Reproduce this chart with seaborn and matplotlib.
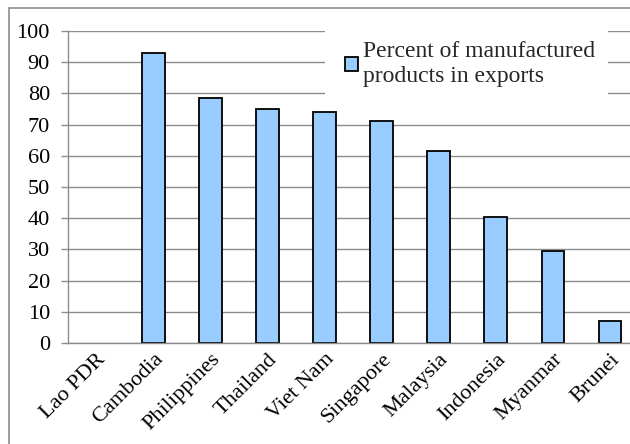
import matplotlib
matplotlib.use("Agg")
import matplotlib.pyplot as plt
import matplotlib.patches as mpatches
import seaborn as sns
import pandas as pd

countries = ["Lao PDR", "Cambodia", "Philippines", "Thailand", "Viet Nam",
             "Singapore", "Malaysia", "Indonesia", "Myanmar", "Brunei"]
manufactured_pct = [0, 93, 78.5, 75, 74, 71, 61.5, 40.5, 29.5, 7]
series_label = "Percent of manufactured\nproducts in exports"
y_ticks = [0, 10, 20, 30, 40, 50, 60, 70, 80, 90, 100]

df = pd.DataFrame({"country": countries, "pct": manufactured_pct})

sns.set_theme(style="white")
plt.rcParams["font.family"] = ["Liberation Serif", "DejaVu Serif"]

fig = plt.figure(figsize=(6.3, 4.44), dpi=100)
W, H = 630, 444
ax = fig.add_axes([68 / W, (H - 343) / H, (638.5 - 68) / W, (343 - 31) / H])

sns.barplot(data=df, x="country", y="pct", ax=ax, color="#99CCFF",
            width=0.4, edgecolor="black", linewidth=1.3, saturation=1)
# a zero-height bar draws no outline
for bar in ax.patches:
    if bar.get_height() == 0:
        bar.set_visible(False)

ax.set_ylim(0, 100)
ax.set_xlim(-0.5, len(countries) - 0.5)
ax.set_yticks(y_ticks)
ax.yaxis.grid(True, color="#8c8c8c", linewidth=1)
ax.set_axisbelow(True)
ax.set_xlabel("")
ax.set_ylabel("")

for side in ("top", "right"):
    ax.spines[side].set_visible(False)
for side in ("left", "bottom"):
    ax.spines[side].set_color("#8c8c8c")
    ax.spines[side].set_linewidth(1)

# tick marks on category boundaries
ax.set_xticks(range(len(countries)))
ax.set_xticklabels(countries, rotation=45, ha="right", rotation_mode="anchor",
                   fontsize=16, color="black")
ax.tick_params(axis="x", length=0, pad=5)
ax.set_xticks([i - 0.5 for i in range(len(countries))], minor=True)
ax.tick_params(axis="x", which="minor", length=6, color="#8c8c8c", width=1)
ax.tick_params(axis="y", length=5, color="#8c8c8c", width=1, labelsize=16,
               labelcolor="black", pad=8, direction="out", left=True)

# white legend area hiding the gridlines behind it
ax.add_patch(mpatches.Rectangle((0.4505, 0.785), 0.4965, 0.235,
                                transform=ax.transAxes, facecolor="white",
                                edgecolor="none", zorder=2, clip_on=False))

handle = mpatches.Patch(facecolor="#99CCFF", edgecolor="black", linewidth=1.3)
leg = ax.legend([handle], [series_label], loc="upper left",
                bbox_to_anchor=((319 - 68) / (638.5 - 68), 1.05),
                frameon=False, fontsize=17, handlelength=0.55, handleheight=0.55,
                handletextpad=0.2, borderpad=0.6, labelspacing=0.2)
leg.set_zorder(5)

# outer chart border
fig.patches.append(mpatches.Rectangle((8.5 / W, -0.1), 1.2, (H - 8) / H + 0.1,
                                      transform=fig.transFigure, fill=False,
                                      edgecolor="#8c8c8c", linewidth=1.2))

fig.savefig("out.png", dpi=100)
